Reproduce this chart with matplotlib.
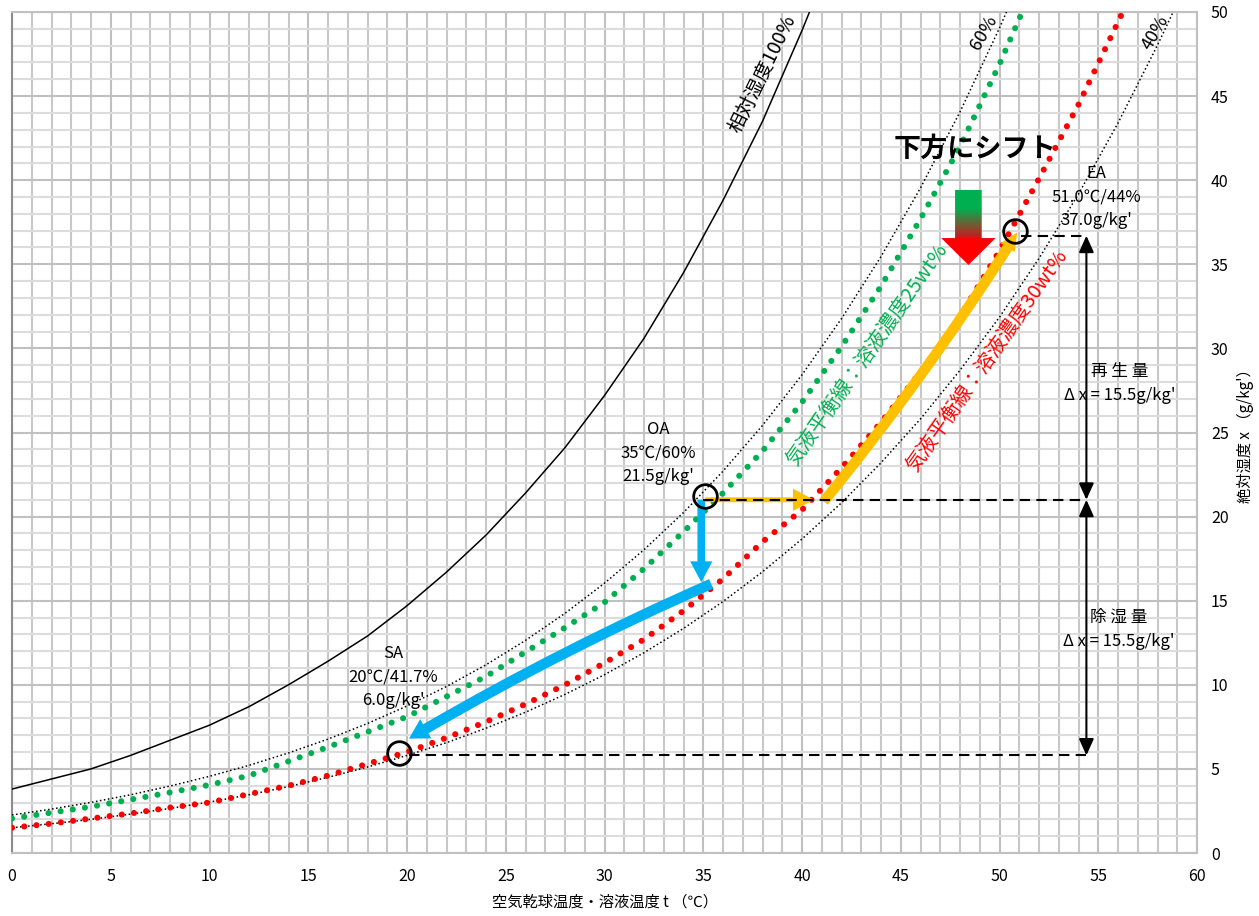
import numpy as np
import matplotlib
matplotlib.use("Agg")
import matplotlib.pyplot as plt
from matplotlib.patches import FancyArrowPatch, Polygon
from matplotlib.colors import LinearSegmentedColormap

plt.rcParams['font.family'] = ['Noto Sans CJK JP', 'DejaVu Sans']

# 相対湿度100% (飽和線)
t_sat = [0, 2, 4, 6, 8, 10, 12, 14, 16, 18, 20, 22, 24, 26, 28, 30, 32, 34, 36, 38, 40, 41]
x_sat = [3.8, 4.4, 5.0, 5.8, 6.7, 7.6, 8.7, 10.0, 11.4, 12.9, 14.7, 16.7, 18.9, 21.4, 24.1,
         27.2, 30.6, 34.5, 38.8, 43.5, 48.9, 51.8]

# 相対湿度60%
t_60 = [0, 2, 4, 6, 8, 10, 12, 14, 16, 18, 20, 22, 24, 26, 28, 30, 32, 34, 36, 38, 40,
        42, 44, 46, 48, 50, 51]
x_60 = [2.26, 2.61, 3.01, 3.46, 3.98, 4.56, 5.21, 5.95, 6.77, 7.70, 8.74, 9.90, 11.19, 12.64,
        14.25, 16.04, 18.03, 20.24, 22.70, 25.42, 28.43, 31.77, 35.46, 39.54, 44.06, 49.05, 51.75]

# 相対湿度40%
t_40 = [0, 2, 4, 6, 8, 10, 12, 14, 16, 18, 20, 22, 24, 26, 28, 30, 32, 34, 36, 38, 40,
        42, 44, 46, 48, 50, 52, 54, 56, 58, 59]
x_40 = [1.50, 1.74, 2.00, 2.31, 2.65, 3.03, 3.46, 3.95, 4.50, 5.11, 5.80, 6.56, 7.42, 8.37,
        9.43, 10.60, 11.91, 13.35, 14.95, 16.72, 18.67, 20.82, 23.20, 25.81, 28.70, 31.86,
        35.35, 39.18, 43.40, 48.03, 50.52]

# 気液平衡線 溶液濃度25wt%
t_25 = [0, 4, 8, 10, 12, 16, 20, 24, 28, 30, 32, 34, 36, 38, 40, 42, 44, 46, 48, 50, 51, 51.3]
x_25 = [2.05, 2.75, 3.6, 4.05, 4.6, 6.3, 8.1, 10.5, 13.4, 14.9, 16.9, 19.1, 21.4, 23.9, 26.8,
        30.1, 33.7, 37.7, 42.0, 46.9, 49.6, 50.4]

# 気液平衡線 溶液濃度30wt%
t_30 = [0, 2, 4, 6, 8, 10, 12, 14, 16, 18, 20, 22, 24, 26, 28, 30, 32, 34, 36, 38, 40,
        42, 44, 46, 48, 50, 52, 54, 56, 56.4]
x_30 = [1.5, 1.75, 2.05, 2.35, 2.7, 3.0, 3.5, 4.0, 4.6, 5.3, 6.0, 6.85, 7.8, 8.85, 10.0,
        11.3, 12.7, 14.4, 16.3, 18.5, 20.4, 22.9, 25.6, 28.6, 31.9, 35.8, 40.1, 44.5, 49.4, 50.4]

# 状態点 (OA, SA, EA)
pt_t = [35.1, 19.6, 50.8]
pt_x = [21.25, 5.95, 37.0]
pt_text = ["OA\n35℃/60%\n21.5g/kg'", "SA\n20℃/41.7%\n6.0g/kg'", "EA\n51.0℃/44%\n37.0g/kg'"]

# 除湿・再生の経路
x_oa, x_sa, x_ea = 21.0, 5.8, 36.7
t_bar = 54.4

fig = plt.figure(figsize=(12.59, 9.16), dpi=100)
ax = fig.add_axes([12 / 1259, 63 / 916, 1185 / 1259, 841 / 916])

ax.set_xlim(0, 60)
ax.set_ylim(0, 50)
ax.set_xticks(range(0, 61, 5))
ax.set_xticks(range(0, 61), minor=True)
ax.set_yticks(range(0, 51, 5))
ax.set_yticks(range(0, 51), minor=True)
ax.yaxis.tick_right()
ax.tick_params(which='both', length=0)
ax.tick_params(axis='x', pad=11, labelsize=11.5)
ax.tick_params(axis='y', pad=10, labelsize=11.5)
ax.grid(which='major', color='#c0c0c0', lw=1.5)
ax.grid(which='minor', axis='x', color='#c8c8c8', lw=1.5)
ax.grid(which='minor', axis='y', color='#dcdcdc', lw=1.5)
ax.set_axisbelow(True)
for s in ['top', 'right', 'bottom']:
    ax.spines[s].set_color('#c0c0c0')
    ax.spines[s].set_linewidth(1.5)
ax.spines['left'].set_color('#8c8c8c')
ax.spines['left'].set_linewidth(1.5)

ax.set_xlabel("空気乾球温度・溶液温度 t （℃）", fontsize=11, labelpad=6)
ax.yaxis.set_label_position('right')
ax.set_ylabel("絶対湿度 x （g/kg'）", fontsize=11, labelpad=6)

# 相対湿度線
ax.plot(t_sat, x_sat, color='black', lw=1.1, zorder=3)
ax.plot(t_60, x_60, color='black', lw=1.1, ls=':', zorder=3)
ax.plot(t_40, x_40, color='black', lw=1.1, ls=':', zorder=3)

# 気液平衡線
dots = (0, (0.01, 2.0))
ax.plot(t_25, x_25, color='#00b050', lw=4.4, ls=dots, dash_capstyle='round', zorder=4)
ax.plot(t_30, x_30, color='#ff0000', lw=4.4, ls=dots, dash_capstyle='round', zorder=4)


def arrow(p0, p1, color, tail, hl, hw, rad=0.0):
    a = FancyArrowPatch(p0, p1, connectionstyle=f'arc3,rad={rad}',
                        arrowstyle=f'simple,head_length={hl},head_width={hw},tail_width={tail}',
                        mutation_scale=1, color=color, lw=0, shrinkA=0, shrinkB=0, zorder=6)
    ax.add_patch(a)


# OA -> 溶液 (除湿)
arrow((34.9, x_oa), (34.9, 16.1), '#00b0f0', 5.5, 15, 16)
arrow((35.4, 16.0), (20.1, 6.8), '#00b0f0', 7.5, 14, 16, rad=0.03)
# OA -> 溶液 (再生)
arrow((35.1, x_oa), (40.6, x_oa), '#ffc000', 3.5, 15, 16)
arrow((41.1, 20.9), (50.9, 36.9), '#ffc000', 7.5, 13, 12, rad=0.03)

# 状態点
ax.plot(pt_t, pt_x, 'o', mfc='none', mec='black', ms=17, mew=2, zorder=8)

# 補助の破線
dash = (0, (5, 3))
ax.plot([35.0, t_bar], [x_oa, x_oa], color='black', lw=1.5, ls=dash, zorder=7)
ax.plot([51.1, t_bar], [x_ea, x_ea], color='black', lw=1.5, ls=dash, zorder=7)
ax.plot([20.1, t_bar], [x_sa, x_sa], color='black', lw=1.5, ls=dash, zorder=7)

for y0, y1 in [(x_oa, x_ea), (x_sa, x_oa)]:
    ax.annotate('', xy=(t_bar, y1), xytext=(t_bar, y0),
                arrowprops=dict(arrowstyle='<|-|>,head_length=1.0,head_width=0.45',
                                mutation_scale=10, color='black', lw=1.5,
                                shrinkA=0, shrinkB=0), zorder=7)

# テキスト
lab = dict(fontsize=12, ha='center', va='center', linespacing=1.5, zorder=9)
ax.text(32.7, 23.8, pt_text[0], **lab)
ax.text(19.3, 10.45, pt_text[1], **lab)
ax.text(54.9, 39.0, pt_text[2], **lab)
ax.text(56.1, 27.9, "再 生 量\nΔ x = 15.5g/kg'", **lab)
ax.text(56.05, 13.3, "除 湿 量\nΔ x = 15.5g/kg'", **lab)

rot = dict(ha='center', va='center', rotation_mode='anchor', zorder=9)
ax.text(38.0, 46.3, "相対湿度100%", fontsize=14, rotation=64, **rot)
ax.text(49.2, 48.75, "60%", fontsize=13, rotation=60, **rot)
ax.text(57.9, 48.8, "40%", fontsize=13, rotation=60, **rot)
ax.text(43.3, 29.6, "気液平衡線：溶液濃度25wt%", fontsize=14.5, color='#00b050', rotation=55, **rot)
ax.text(49.4, 29.25, "気液平衡線：溶液濃度30wt%", fontsize=14.5, color='#ff0000', rotation=55, **rot)
ax.text(48.76, 41.86, "下方にシフト", fontsize=19.5, fontweight='bold', ha='center', va='center', zorder=9)

# 下方シフトの矢印 (緑→赤のグラデーション)
sh_l, sh_r, hd_l, hd_r, mid = 47.75, 49.1, 47.05, 49.8, 48.43
top, neck, tip = 39.42, 36.56, 34.96
shape = Polygon([(sh_l, top), (sh_r, top), (sh_r, neck), (hd_r, neck), (mid, tip),
                 (hd_l, neck), (sh_l, neck)], closed=True, fc='none', ec='none',
                transform=ax.transData)
ax.add_patch(shape)
cmap = LinearSegmentedColormap.from_list('gr', [(0, '#00b050'), (0.25, '#00b050'),
                                                (0.62, '#c02020'), (0.66, '#ff0000'),
                                                (1, '#ff0000')])
grad = np.linspace(0, 1, 200).reshape(-1, 1)
im = ax.imshow(grad, cmap=cmap, extent=[hd_l, hd_r, tip, top], origin='upper',
               aspect='auto', zorder=6, interpolation='bilinear')
im.set_clip_path(shape)

ax.set_xlim(0, 60)
ax.set_ylim(0, 50)

fig.savefig('out.png', dpi=100)
